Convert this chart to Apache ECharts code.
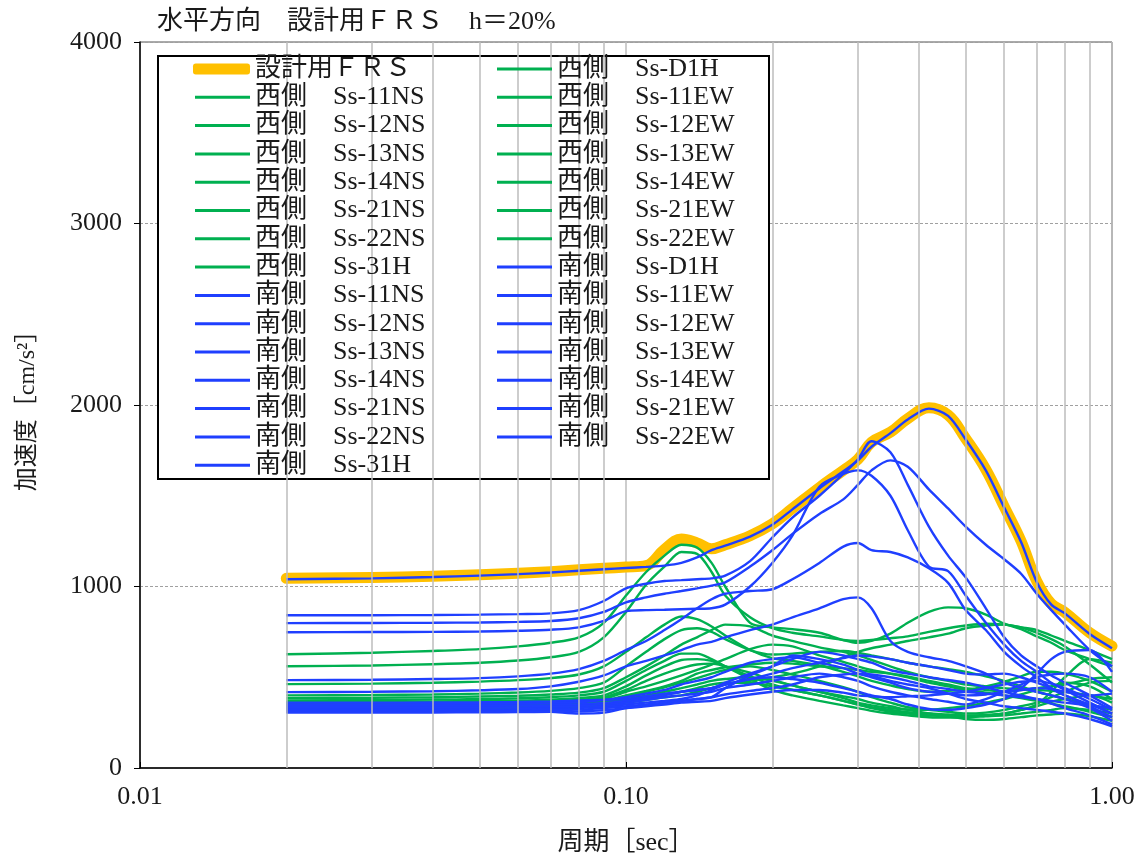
<!DOCTYPE html>
<html>
<head>
<meta charset="utf-8">
<script src="https://cdn.jsdelivr.net/npm/echarts@6/dist/echarts.min.js"></script>
<style>
html,body{margin:0;padding:0;background:#fff;}
#chart{width:1147px;height:861px;}
</style>
</head>
<body>
<div id="chart"></div>
<script>
// ---- data ----
const periods = [0.02,0.03,0.04,0.05,0.06,0.07,0.08,0.09,0.10,0.11,0.12,0.13,0.14,0.15,0.16,0.18,0.20,0.22,0.25,0.28,0.30,0.32,0.35,0.38,0.42,0.46,0.50,0.55,0.60,0.65,0.70,0.75,0.80,0.90,1.00];
const xTickLabels = ['0.01','0.10','1.00'];
const yTicks = [0,1000,2000,3000,4000];
const minorPeriods = [0.02,0.03,0.04,0.05,0.06,0.07,0.08,0.09,0.2,0.3,0.4,0.5,0.6,0.7,0.8,0.9];

const frsValues = [1045,1050,1057,1065,1073,1082,1092,1100,1107,1115,1205,1262,1240,1208,1230,1280,1345,1430,1545,1640,1700,1795,1850,1925,1985,1945,1815,1645,1440,1250,1030,905,858,745,672];

// 西側 (green)
const west_D1H  = [627,635,645,655,670,690,720,800,950,1080,1170,1230,1215,1130,1000,800,775,765,745,705,690,700,740,800,860,885,880,845,795,765,725,690,650,600,560];
const west_11NS = [561,565,572,580,592,610,640,720,860,1010,1110,1190,1180,1080,950,830,770,745,725,705,700,705,715,725,750,770,785,795,790,775,745,710,670,570,470];
const west_11EW = [462,465,470,476,484,495,515,560,640,720,790,835,820,780,730,650,605,590,565,530,505,480,455,435,420,425,430,450,475,505,530,530,520,480,420];
const west_12NS = [400,402,405,410,416,425,440,470,560,640,710,760,770,750,710,650,625,630,640,645,635,620,600,580,560,545,530,505,480,450,420,400,380,350,320];
const west_12EW = [385,387,390,394,398,405,415,440,500,560,620,680,720,760,790,780,730,700,665,640,620,595,560,530,500,480,460,450,440,435,430,425,420,400,380];
const west_13NS = [372,374,377,380,384,390,400,420,480,540,590,630,630,600,560,490,430,400,370,345,330,315,300,290,280,278,280,290,300,320,340,365,380,400,360];
const west_13EW = [362,364,366,369,372,377,385,400,450,510,560,595,600,590,560,505,460,430,400,370,350,330,310,300,290,285,280,285,290,300,310,320,330,320,300];
const west_14NS = [355,356,358,361,364,368,375,390,430,480,520,550,570,575,560,525,485,455,420,395,380,360,340,320,300,285,270,265,270,280,290,295,300,285,260];
const west_14EW = [348,350,352,355,358,362,368,380,420,450,480,510,540,570,600,655,680,670,620,585,560,540,520,500,470,450,430,415,400,385,370,355,340,310,280];
const west_21NS = [342,343,345,348,351,355,360,370,400,425,450,480,520,540,555,570,580,575,560,550,540,530,520,505,480,460,440,430,420,430,440,450,460,490,500];
const west_21EW = [336,337,339,341,344,348,353,362,390,420,445,470,495,520,540,560,540,515,480,445,420,390,360,335,320,310,300,305,320,340,360,390,420,470,480];
const west_22NS = [330,331,333,335,338,342,347,355,380,400,420,440,460,480,490,500,480,455,420,385,360,345,330,322,320,330,340,360,380,405,430,450,470,450,380];
const west_22EW = [325,326,328,330,333,336,340,348,370,390,405,420,440,460,470,470,450,430,400,370,350,335,320,308,300,295,290,292,300,320,350,420,500,600,580];
const west_31H  = [320,321,323,325,328,331,336,344,360,375,390,400,420,440,460,480,500,520,560,610,640,660,680,700,720,740,770,785,790,775,760,730,700,650,600];

// 南側 (blue)
const south_D1H  = [1040,1045,1052,1060,1068,1077,1087,1095,1102,1108,1115,1130,1160,1200,1225,1275,1340,1425,1540,1635,1695,1770,1845,1920,1980,1940,1810,1640,1435,1245,1025,900,852,738,660];
const south_11NS = [842,842,843,845,848,852,870,920,990,1015,1030,1035,1040,1045,1060,1140,1270,1380,1500,1620,1700,1800,1740,1560,1330,1170,1050,880,720,620,560,510,470,400,330];
const south_11EW = [798,799,800,802,805,810,825,860,913,940,960,975,990,1005,1023,1110,1200,1290,1400,1480,1560,1640,1695,1660,1535,1430,1330,1230,1150,1070,960,870,790,650,560];
const south_12NS = [748,749,750,752,756,762,775,810,864,870,872,875,877,880,900,1000,1130,1280,1550,1620,1640,1610,1500,1310,1110,1085,950,800,680,590,530,470,430,360,300];
const south_12EW = [484,486,490,495,505,520,545,590,650,700,760,820,880,930,960,975,985,1040,1130,1220,1240,1200,1190,1160,1100,1020,870,760,640,560,500,440,400,340,280];
const south_13NS = [418,420,423,428,435,450,475,510,560,590,620,650,680,695,720,760,790,830,880,930,940,880,700,640,610,590,560,520,470,440,420,400,380,330,260];
const south_13EW = [360,360,361,362,364,367,372,376,380,395,410,420,430,440,470,520,560,600,640,620,600,580,540,520,500,485,470,445,420,400,380,355,330,290,240];
const south_14NS = [350,350,351,352,354,357,362,375,390,410,430,460,480,500,530,580,600,610,580,550,520,500,470,440,420,410,400,405,420,430,440,435,420,400,410];
const south_14EW = [340,340,341,342,344,346,350,358,370,385,400,420,430,440,460,490,520,550,580,605,620,615,600,580,560,540,520,515,520,500,470,440,400,350,300];
const south_21NS = [330,330,331,332,334,336,340,348,360,375,390,400,410,420,440,460,480,500,520,500,480,450,420,400,380,365,350,380,420,460,500,515,520,500,420];
const south_21EW = [320,320,321,322,324,326,330,338,350,360,370,380,400,430,460,490,500,490,470,440,420,400,380,350,325,320,330,350,380,440,520,600,640,650,530];
const south_22NS = [315,315,316,317,318,320,322,330,340,350,360,370,380,390,405,425,440,460,500,515,520,515,500,480,450,435,420,410,400,390,380,370,360,345,330];
const south_22EW = [310,310,311,312,314,310,300,305,330,345,360,370,380,390,440,510,560,620,600,570,540,510,480,460,440,410,380,360,340,330,320,310,300,270,230];
const south_31H  = [305,305,306,307,308,310,312,318,330,340,350,360,365,370,385,405,420,430,430,415,400,395,390,395,400,410,420,440,460,475,480,465,440,380,320];

const frsName = '設計用ＦＲＳ';
const westSeries = [
  ['Ss-D1H',west_D1H],['Ss-11NS',west_11NS],['Ss-11EW',west_11EW],['Ss-12NS',west_12NS],['Ss-12EW',west_12EW],
  ['Ss-13NS',west_13NS],['Ss-13EW',west_13EW],['Ss-14NS',west_14NS],['Ss-14EW',west_14EW],['Ss-21NS',west_21NS],
  ['Ss-21EW',west_21EW],['Ss-22NS',west_22NS],['Ss-22EW',west_22EW],['Ss-31H',west_31H]
];
const southSeries = [
  ['Ss-D1H',south_D1H],['Ss-11NS',south_11NS],['Ss-11EW',south_11EW],['Ss-12NS',south_12NS],['Ss-12EW',south_12EW],
  ['Ss-13NS',south_13NS],['Ss-13EW',south_13EW],['Ss-14NS',south_14NS],['Ss-14EW',south_14EW],['Ss-21NS',south_21NS],
  ['Ss-21EW',south_21EW],['Ss-22NS',south_22NS],['Ss-22EW',south_22EW],['Ss-31H',south_31H]
];
const leftLegendCodes = ['Ss-11NS','Ss-12NS','Ss-13NS','Ss-14NS','Ss-21NS','Ss-22NS','Ss-31H'];
const rightLegendCodes = ['Ss-D1H','Ss-11EW','Ss-12EW','Ss-13EW','Ss-14EW','Ss-21EW','Ss-22EW'];

// ---- build ----
const GREEN = '#00b050', BLUE = '#1f3fff', ORANGE = '#ffc000';
const FONT = "'Liberation Serif','Noto Sans CJK JP',serif";
const TXT = '#1a1a1a';
const SP = '\u3000';
const pair = v => periods.map((p,i)=>[p,v[i]]);

const series = [];
series.push({
  name:'minor', type:'line', data:[], silent:true, z:1,
  markLine:{silent:true, symbol:'none', label:{show:false},
    lineStyle:{color:'#bdbdbd', width:1.5, type:'solid'},
    data: minorPeriods.map(p=>({xAxis:p}))}
});
series.push({
  name:frsName, type:'line', data:pair(frsValues), symbol:'none', smooth:0.4,
  lineStyle:{color:ORANGE, width:11, cap:'round', join:'round'}, itemStyle:{color:ORANGE}, z:2
});
westSeries.forEach(([c,v])=>series.push({
  name:'西側'+SP+c, type:'line', data:pair(v), symbol:'none', smooth:0.3,
  lineStyle:{color:GREEN, width:2.4}, itemStyle:{color:GREEN}, z:3
}));
southSeries.forEach(([c,v])=>series.push({
  name:'南側'+SP+c, type:'line', data:pair(v), symbol:'none', smooth:0.3,
  lineStyle:{color:BLUE, width:2.4}, itemStyle:{color:BLUE}, z:3
}));

const leftLegend = leftLegendCodes.map(c=>'西側'+SP+c)
  .concat(leftLegendCodes.map(c=>'南側'+SP+c));
const rightLegend = rightLegendCodes.map(c=>'西側'+SP+c)
  .concat(rightLegendCodes.map(c=>'南側'+SP+c));

const ROW = 28.3;
const legendCommon = {
  orient:'vertical', padding:0, itemGap:ROW-28, itemWidth:55, itemHeight:3, icon:'rect',
  selectedMode:false, z:10,
  textStyle:{fontFamily:FONT, fontSize:26, color:TXT, lineHeight:28}
};

const chart = echarts.init(document.getElementById('chart'), null, {renderer:'canvas'});
chart.setOption({
  animation:false,
  backgroundColor:'#fff',
  textStyle:{fontFamily:FONT},
  title:{text:'水平方向'+SP+'設計用ＦＲＳ'+SP+'h＝20%', left:152, top:4,
    textStyle:{fontFamily:FONT, fontSize:26, fontWeight:'normal', color:TXT}},
  grid:{left:140, right:35, top:42, bottom:92, show:true, borderColor:'#555', borderWidth:1},
  graphic:[{type:'rect', left:157, top:55, z:5, shape:{width:611, height:423},
    style:{fill:'#fff', stroke:'#000', lineWidth:2}}],
  legend:[
    Object.assign({}, legendCommon, {left:193, top:55, data:[frsName], icon:'roundRect', itemHeight:11, itemWidth:57}),
    Object.assign({}, legendCommon, {left:195, top:55+ROW, data:leftLegend}),
    Object.assign({}, legendCommon, {left:497, top:55, data:rightLegend})
  ],
  xAxis:{type:'log', logBase:10, min:0.01, max:1,
    name:'周期［sec］', nameLocation:'middle', nameGap:62,
    nameTextStyle:{fontFamily:FONT, fontSize:26, color:TXT},
    axisLine:{lineStyle:{color:'#000', width:1.5}},
    axisTick:{show:true, inside:true, length:6, lineStyle:{color:'#000'}},
    axisLabel:{fontFamily:FONT, fontSize:26, color:TXT, margin:16, showMinLabel:true, showMaxLabel:true,
      formatter:v=>{const i=Math.round(Math.log10(v))+2; return xTickLabels[i]!==undefined?xTickLabels[i]:'';}},
    splitLine:{show:true, lineStyle:{color:'#bdbdbd', width:1.5}}
  },
  yAxis:{type:'value', min:yTicks[0], max:yTicks[yTicks.length-1], interval:1000,
    name:'加速度［cm/s²］', nameLocation:'middle', nameGap:100, nameRotate:90,
    nameTextStyle:{fontFamily:FONT, fontSize:24, color:TXT},
    axisLine:{show:true, lineStyle:{color:'#000', width:1.5}},
    axisTick:{show:true, length:6, lineStyle:{color:'#000'}},
    axisLabel:{fontFamily:FONT, fontSize:26, color:TXT, margin:18, formatter:v=>String(v)},
    splitLine:{show:true, lineStyle:{color:'#a0a0a0', width:1, type:[3,2]}}
  },
  series:series
});
</script>
</body>
</html>
